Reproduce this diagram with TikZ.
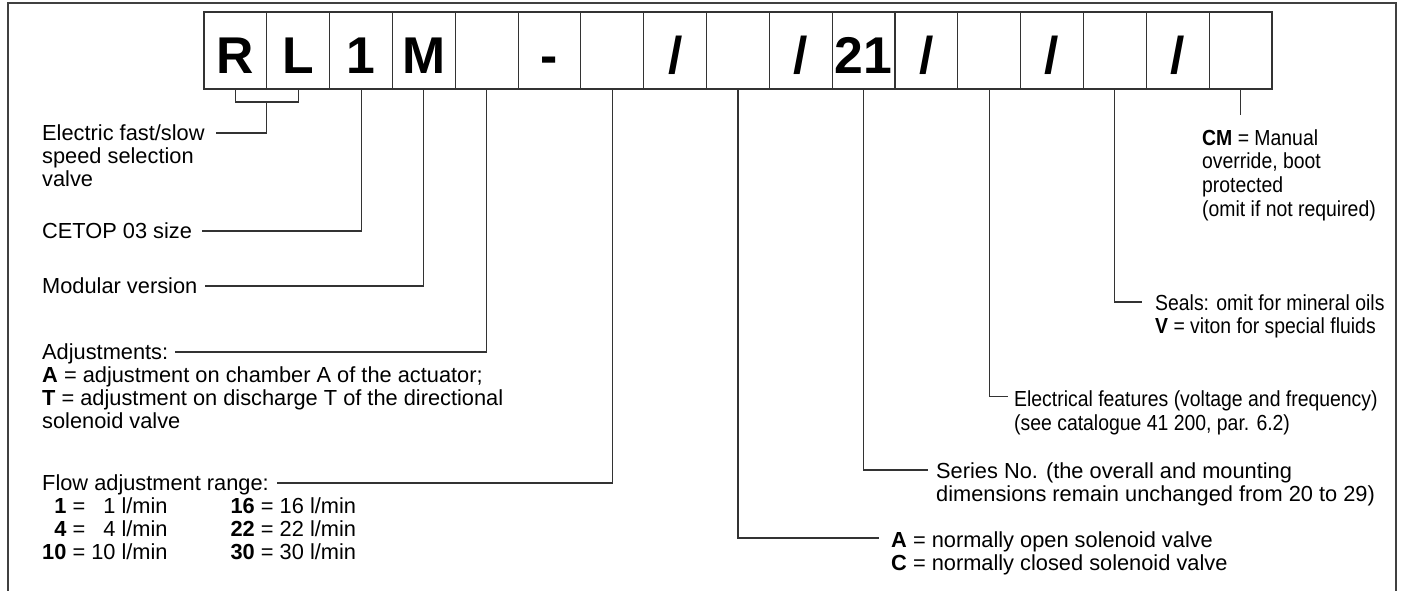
\documentclass[tikz,border=0pt]{standalone}
\usepackage{fontspec}
\setmainfont{Liberation Sans}
\newfontfamily\narrowsf[FakeStretch=0.89]{Liberation Sans}

\begin{document}
\begin{tikzpicture}[x=1pt, y=-1pt,
  cell/.style={draw=black!80, line width=1.1pt, minimum width=62.82pt, minimum height=77pt,
    inner sep=0pt, outer sep=0pt, text height=57pt, text depth=10pt,
    font=\bfseries\fontsize{51.7pt}{52pt}\selectfont},
  lbl/.style={anchor=base west, align=left, inner sep=0pt, font=\fontsize{21.8pt}{23.4pt}\selectfont},
  nlbl/.style={lbl, font=\narrowsf\fontsize{21.8pt}{23.8pt}\selectfont},
  lead/.style={draw=black!80, line width=1.1pt}]
\useasboundingbox (0,0) rectangle (1401,591);
\draw[black!75, line width=2pt] (8,591) -- (8,3) -- (1396,3) -- (1396,591);

\node[cell] (b1) at (235.4,50.5) {R};
\node[cell] (b2) at (298.2,50.5) {L};
\node[cell] (b3) at (361.1,50.5) {1};
\node[cell] (b4) at (423.9,50.5) {M};
\node[cell] (b5) at (486.7,50.5) {};
\node[cell] (b6) at (549.5,50.5) {-};
\node[cell] (b7) at (612.3,50.5) {};
\node[cell] (b8) at (675.2,50.5) {/};
\node[cell] (b9) at (738.0,50.5) {};
\node[cell] (b10) at (800.8,50.5) {/};
\node[cell] (b11) at (863.6,50.5) {21};
\node[cell] (b12) at (926.4,50.5) {/};
\node[cell] (b13) at (989.3,50.5) {};
\node[cell] (b14) at (1052.1,50.5) {/};
\node[cell] (b15) at (1114.9,50.5) {};
\node[cell] (b16) at (1177.7,50.5) {/};
\node[cell] (b17) at (1240.6,50.5) {};

\node[lbl] (elec) at (42,186.8) {Electric fast/slow\\speed selection\\valve};
\node[lbl] (cetop) at (42,238) {CETOP 03 size};
\node[lbl] (modular) at (42,293) {Modular version};
\node[lbl] (adj) at (42,359) {Adjustments:};
\node[lbl] (adjtxt) at (42,428.8) {\textbf{A} = adjustment on chamber A of the actuator;\\\textbf{T} = adjustment on discharge T of the directional\\solenoid valve};
\node[lbl] (flow) at (42,490) {Flow adjustment range:};
\node[lbl] (flowtab) at (42,513) {\begin{tabular}[t]{@{}r@{ = }r@{\hspace{63pt}}r@{ = }l@{}}
  \textbf{1} & 1 l/min & \textbf{16} & 16 l/min\\
  \textbf{4} & 4 l/min & \textbf{22} & 22 l/min\\
  \textbf{10} & 10 l/min & \textbf{30} & 30 l/min
\end{tabular}};

\node[nlbl] (cm) at (1202,216.4) {\textbf{CM} = Manual\\override, boot\\protected\\(omit if not required)};
\node[nlbl] (seals) at (1155,333.8) {Seals: omit for mineral oils\\\textbf{V} = viton for special fluids};
\node[nlbl] (elfeat) at (1014,430.3) {Electrical features (voltage and frequency)\\(see catalogue 41 200, par. 6.2)};
\node[lbl] (series) at (936,501.4) {Series No. (the overall and mounting\\dimensions remain unchanged from 20 to 29)};
\node[lbl] (solv) at (891,570.4) {\textbf{A} = normally open solenoid valve\\\textbf{C} = normally closed solenoid valve};

\draw[lead] (b1.south) -- ++(0,13) coordinate (brl) -| (b2.south);
\draw[lead] (b1.south east |- brl) |- ([xshift=11pt,yshift=53.8pt]elec.base east);
\draw[lead] (b3.south) |- ([xshift=10pt,yshift=7pt]cetop.base east);
\draw[lead] (b4.south) |- ([xshift=8pt,yshift=7pt]modular.base east);
\draw[lead] (b5.south) |- ([xshift=7pt,yshift=7pt]adj.base east);
\draw[lead] (b7.south) |- ([xshift=8pt,yshift=7pt]flow.base east);
\draw[lead] (b9.south) |- ([xshift=-12pt,yshift=32.4pt]solv.base west);
\draw[lead] (b11.south) |- ([xshift=-8pt,yshift=31.4pt]series.base west);
\draw[lead] (b13.south) |- ([xshift=-6pt,yshift=33.8pt]elfeat.base west);
\draw[lead] (b15.south) |- ([xshift=-13pt,yshift=31.8pt]seals.base west);
\draw[lead] (b17.south) -- ++(0,26);

\end{tikzpicture}
\end{document}
